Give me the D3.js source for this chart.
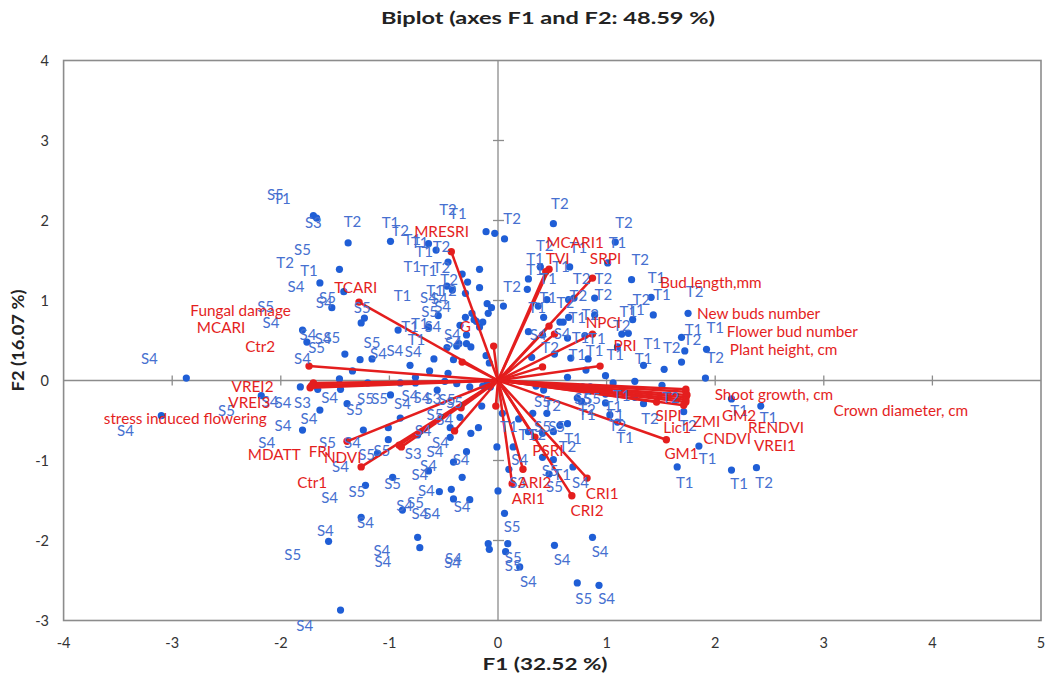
<!DOCTYPE html>
<html><head><meta charset="utf-8">
<script src="https://cdn.jsdelivr.net/npm/d3@7"></script>
<style>
html,body{margin:0;padding:0;background:#fff;}
svg{display:block;font-family:Lato,"Open Sans",sans-serif;}
</style></head>
<body><svg id="c" width="1046" height="680"></svg>
<script>
const title = "Biplot (axes F1 and F2: 48.59 %)";
const xTitle = "F1 (32.52 %)";
const yTitle = "F2 (16.07 %)";
const xTicks = [-4,-3,-2,-1,0,1,2,3,4,5];
const yTicks = [-3,-2,-1,0,1,2,3,4];

// variable vectors (endpoints, F1/F2 loadings)
const vecX = [-0.43,-1.28,-0.33,-0.04,-1.74,-1.70,-1.72,-1.73,-1.71,-1.39,-1.26,-0.91,-0.89,-0.40,-0.34,-0.02,
  0.23,0.13,0.68,0.82,0.34,1.55,1.73,1.73,1.74,1.73,1.73,1.73,1.71,1.46,0.47,0.44,0.87,0.47,0.52,0.87,0.94,0.41];
const vecY = [1.61,0.98,0.23,0.43,0.18,-0.03,-0.07,-0.09,-0.06,-0.76,-1.08,-0.81,-0.83,-0.63,-0.34,-0.32,
  -1.11,-1.29,-1.44,-1.22,-0.71,-0.74,-0.11,-0.14,-0.18,-0.21,-0.24,-0.27,-0.31,-0.27,1.39,1.36,1.28,0.68,0.58,0.58,0.18,0.17];

// variable labels [name, x, y]
const varLabels = [
 ["MRESRI",-0.52,1.86],["MCARI1",0.71,1.73],["TVI",0.55,1.52],["SRPI",0.99,1.53],
 ["Bud length,mm",1.96,1.23],["TCARI",-1.31,1.16],["Fungal damage",-2.37,0.88],
 ["New buds number",2.40,0.84],["G",-0.30,0.67],["MCARI",-2.55,0.66],["NPCI",0.97,0.72],
 ["Flower bud number",2.71,0.61],["Ctr2",-2.19,0.42],["PRI",1.17,0.44],["Plant height, cm",2.63,0.39],
 ["VREI2",-2.26,-0.07],["Shoot growth, cm",2.54,-0.18],["VREI3",-2.29,-0.27],
 ["Crown diameter, cm",3.71,-0.38],["stress induced flowering",-2.88,-0.48],["SIPI",1.57,-0.44],
 ["ZMI",1.92,-0.51],["GM2",2.22,-0.44],["Lic1",1.65,-0.59],["RENDVI",2.56,-0.59],["CNDVI",2.11,-0.72],
 ["VREI1",2.55,-0.81],["MDATT",-2.06,-0.92],["FRI",-1.64,-0.89],["NDVI",-1.43,-0.96],["PSRI",0.46,-0.88],
 ["GM1",1.69,-0.91],["Ctr1",-1.71,-1.27],["CRI1",0.96,-1.41],["ARI2",0.34,-1.28],["ARI1",0.28,-1.47],
 ["CRI2",0.82,-1.62]
];

// observation scores [F1, F2]
const obsPoints = [
 [-1.70,2.06],[-1.67,2.03],[-1.38,1.72],[-0.99,1.74],[-0.64,1.71],[-0.57,1.63],[-0.46,1.48],[-1.46,1.39],
 [-0.17,1.39],[-0.33,1.33],[-0.28,1.23],[-1.64,1.22],[-1.42,1.11],[-0.47,1.18],[-0.42,1.13],[-0.30,1.09],
 [-0.17,1.16],[-1.53,0.91],[-1.23,0.78],[-1.26,0.72],[-0.55,0.81],[-0.10,0.96],[-0.06,0.91],[-0.09,0.84],
 [0.05,0.93],[-0.30,0.79],[-0.22,0.76],[-0.17,0.67],[-0.92,0.63],[-0.64,0.67],[-0.29,0.57],[-0.47,0.41],
 [-0.38,0.43],[-0.29,0.46],[-1.41,0.33],[-1.27,0.26],[-1.16,0.27],[-0.81,0.19],[-0.63,0.12],[-0.46,0.09],
 [-1.34,0.12],[-0.76,0.04],[-1.46,0.02],[-0.90,-0.03],[-1.20,-0.03],[-0.10,-0.03],[-0.08,0.22],
 [-0.11,1.86],[-0.03,1.84],[0.06,1.77],[-1.80,0.63],[-1.76,0.48],[-1.82,-0.08],[-1.66,-0.11],
 [-2.87,0.03],[-2.18,-0.19],[-3.10,-0.44],[-1.80,-0.62],[-1.64,-0.37],
 [-0.24,0.84],[-0.20,0.74],[-0.14,0.73],[-0.35,0.69],[-0.36,0.46],[-0.25,0.42],[-0.41,0.26],[-0.59,0.27],
 [-0.11,0.31],[-0.49,-0.01],[-0.26,-0.08],[-0.14,-0.07],[-0.07,-0.08],[-0.56,-0.12],[-0.15,-0.32],
 [-0.35,-0.46],[-0.44,-0.71],[-0.18,-0.59],[0.04,-0.41],[-0.01,-0.83],[0.14,-0.83],[0.19,-0.48],
 [0.45,-0.41],[0.28,-0.64],[0.35,-0.07],[0.42,-0.12],[0.37,0.93],[0.28,0.61],[0.31,0.29],[0.65,0.79],
 [0.60,0.73],[0.64,0.53],[0.80,0.56],[0.52,0.33],[0.64,0.04],[0.81,0.13],[0.78,-0.08],[0.85,-0.08],
 [0.73,-0.22],
 [-1.45,-0.11],[-0.76,-0.03],[-0.38,-0.04],[-1.39,-0.29],[-0.99,-0.18],[-0.90,-0.47],[-1.24,-0.62],
 [-1.01,-0.59],[-1.01,-0.74],[-1.11,-0.91],[-0.44,-0.59],[-0.25,-0.66],[-0.74,-0.68],[-0.64,-1.13],
 [-0.41,-1.02],[-0.29,-0.89],[-0.33,-1.21],[-0.97,-1.21],[-1.22,-1.31],[-0.54,-1.39],[-0.43,-1.36],
 [-0.41,-1.48],[-0.26,-1.49],[-0.88,-1.62],[-1.26,-1.71],[-0.74,-1.96],[-0.72,-2.09],[-1.56,-2.01],
 [-0.09,-2.04],[-0.08,-2.11],[0.07,-2.14],[0.09,-2.04],[0.00,-1.38],[0.06,-1.66],[-1.45,-2.87],
 [0.77,-0.26],[0.99,-0.17],[1.06,-0.03],[1.26,-0.01],[1.51,-0.06],[1.34,-0.29],[0.32,-0.41],[0.57,-0.56],
 [0.64,-0.54],[0.41,-0.66],[0.51,-0.64],[1.10,-0.52],[1.03,-0.43],[0.10,-1.11],[0.41,-0.96],[0.51,-0.99],
 [0.47,-1.17],[0.69,-1.08],[1.65,-1.08],[0.20,-2.33],[0.52,-2.06],[0.87,-1.96],[0.73,-2.53],[0.93,-2.56],
 [0.99,0.06],[1.53,0.14],[1.91,0.03],[1.69,0.23],[1.26,-0.21],[0.99,-0.28],[1.71,-0.39],[2.15,-0.23],
 [2.42,-0.32],[1.85,-0.82],[2.15,-1.12],[2.38,-1.09],
 [0.51,1.96],[1.08,1.73],[1.01,1.47],[0.66,1.42],[0.39,1.42],[1.23,1.26],[0.28,1.27],[0.27,1.14],
 [1.41,1.04],[0.89,1.03],[0.65,1.01],[0.70,1.03],[0.45,1.01],[1.75,0.84],[1.43,0.82],[0.89,0.82],
 [0.42,0.79],[0.57,0.73],[1.24,0.76],[1.20,0.59],[1.14,0.58],[1.69,0.54],[0.41,0.57],[1.10,0.42],
 [0.67,0.28],[0.83,0.27],[1.34,0.19],[1.72,0.37],[1.92,0.39]
];

// observation labels [text, x, y]
const obsLabels = [
 ["S5",-2.05,2.32],["T1",-1.99,2.27],["S3",-1.70,1.97],["T2",-1.34,1.99],["T1",-0.99,1.97],["T2",-0.90,1.88],
 ["T2",-0.46,2.14],["T1",-0.37,2.09],["T1",-0.79,1.76],["T1",-0.72,1.73],["T2",-0.52,1.67],["T1",-0.68,1.61],
 ["T1",-0.79,1.43],["T1",-0.64,1.37],["T2",-0.52,1.41],["S5",-1.80,1.64],["T2",-1.96,1.47],["T1",-1.74,1.38],
 ["S4",-1.86,1.17],["T2",-0.45,1.26],["T1",-0.58,1.13],["T2",-0.46,1.13],["T1",-0.88,1.06],["S4",-0.64,1.04],
 ["S4",-0.54,1.03],["S4",-0.51,0.93],["S5",-1.57,1.04],["S4",-1.60,0.97],["S5",-1.25,0.91],["S5",-0.63,0.86],
 ["T1",-0.81,0.68],["T1",-0.72,0.71],["S4",-0.60,0.68],["T1",-0.75,0.51],["S4",-0.42,0.57],["S4",-0.41,0.47],
 ["S5",-2.14,0.92],["S4",-2.09,0.73],["S4",-1.75,0.58],["S4",-1.61,0.52],["S5",-1.53,0.54],["S5",-1.67,0.41],
 ["S5",-1.16,0.47],["S4",-1.10,0.34],["S4",-0.95,0.37],["S4",-0.78,0.36],["S4",-1.80,0.28],["S4",-3.21,0.28],
 ["T2",0.57,2.21],["T2",0.13,2.03],["T2",1.16,1.98],["T1",1.10,1.73],["T2",0.43,1.69],["T1",0.74,1.66],
 ["T1",0.34,1.53],["T2",1.31,1.51],["T1",0.34,1.39],["T1",0.58,1.42],["T1",1.46,1.29],["T2",0.13,1.18],
 ["T1",0.46,1.27],["T2",0.77,1.28],["T2",0.97,1.28],["T1",0.46,1.04],["T2",0.74,1.06],["T2",0.97,1.07],
 ["T1",1.51,1.07],["T2",1.81,1.11],["T2",1.32,1.01],["T1",1.20,0.86],["T1",1.27,0.89],["T1",0.36,0.91],
 ["T2",0.62,0.98],["T1",0.73,0.79],["T2",0.85,0.82],["T1",1.80,0.64],["T1",2.00,0.66],["T2",1.79,0.51],
 ["T2",1.14,0.69],["S4",0.37,0.57],["S4",0.59,0.59],["T1",0.76,0.54],["T1",0.91,0.53],["T1",1.42,0.46],
 ["T2",1.60,0.41],["T2",0.48,0.41],["T1",0.73,0.32],["T1",0.89,0.38],["T1",1.08,0.32],["T1",1.34,0.28],
 ["T2",2.00,0.29],
 ["S4",-3.43,-0.63],["S5",-2.50,-0.38],["S4",-2.10,-0.26],["S4",-1.98,-0.28],["S4",-1.98,-0.56],
 ["S4",-2.13,-0.78],["S3",-1.80,-0.27],["S4",-1.55,-0.21],["S4",-1.74,-0.48],["S5",-1.32,-0.36],
 ["S5",-1.22,-0.23],["S5",-1.09,-0.22],["S4",-0.88,-0.29],["S4",-0.81,-0.19],["S4",-0.70,-0.21],
 ["S3",-0.60,-0.23],["S5",-0.47,-0.24],["S5",-0.40,-0.27],["S5",-0.58,-0.43],["S4",-0.49,-0.49],
 ["S5",-1.57,-0.78],["S4",-1.34,-0.77],["S5",-1.21,-0.92],["S5",-1.07,-0.87],["S4",-1.45,-1.08],
 ["S3",-0.78,-0.91],["S4",-0.58,-0.89],["S4",-0.53,-0.77],["S4",-0.69,-0.62],["S4",-0.64,-1.06],
 ["S4",-0.72,-1.17],["S4",-0.34,-0.99],["S4",-1.55,-1.46],["S5",-1.30,-1.39],["S5",-0.97,-1.29],
 ["S4",-0.66,-1.38],["S4",-0.86,-1.56],["S5",-0.76,-1.53],["S4",-0.72,-1.66],["S4",-0.61,-1.66],
 ["S4",-0.33,-1.58],["S4",-1.22,-1.78],["S4",-1.59,-1.87],["S5",-1.89,-2.18],["S4",-1.07,-2.12],
 ["S4",-1.06,-2.26],["S4",-0.41,-2.23],["S4",-0.42,-2.28],["S4",-1.78,-3.06],
 ["S5",0.41,-0.26],["T2",0.50,-0.31],["S5",0.78,-0.23],["S5",0.87,-0.23],["T2",0.82,-0.36],["T1",0.82,-0.43],
 ["T1",1.14,-0.19],["T1",1.06,-0.32],["T1",1.08,-0.43],["T2",1.59,-0.21],["T2",1.40,-0.47],["T2",1.10,-0.56],
 ["T1",1.17,-0.71],["T1",0.10,-0.58],["T1",0.27,-0.68],["T2",0.36,-0.68],["S5",0.41,-0.58],["S5",0.54,-0.58],
 ["T1",0.69,-0.72],["T2",0.64,-0.83],["S4",0.20,-0.99],["S5",0.48,-1.12],["T1",0.59,-1.18],["S5",0.52,-1.33],
 ["S4",0.76,-1.27],["S3",0.18,-1.27],["S5",0.13,-1.83],["S4",0.94,-2.14],["S4",0.59,-2.24],["S5",0.14,-2.21],
 ["S5",0.14,-2.31],["S4",0.28,-2.51],["S5",0.79,-2.72],["S4",1.00,-2.73],["T2",1.75,-0.56],["T1",2.22,-0.38],
 ["T1",2.49,-0.46],["T1",1.93,-0.98],["T1",1.72,-1.27],["T1",2.22,-1.29],["T2",2.45,-1.27]
];

const W = 1046, H = 680;
const svg = d3.select("#c");
const x = d3.scaleLinear().domain([-4,5]).range([63.6,1041]);
const y = d3.scaleLinear().domain([-3,4]).range([620.5,60.5]);

const grey = "#8c8c8c";
const blueDot = "#1f5ed6";
const blueTxt = "#4670d0";
const red = "#e41e1e";

// frame
svg.append("rect").attr("x",x(-4)).attr("y",y(4)).attr("width",x(5)-x(-4)).attr("height",y(-3)-y(4))
  .attr("fill","none").attr("stroke",grey).attr("stroke-width",1.6);

// tick labels on frame
svg.append("g").attr("transform",`translate(0,${y(-3)+27})`).selectAll("text").data(xTicks).join("text")
  .attr("x",d=>x(d)).attr("text-anchor","middle").attr("font-size",14.5).attr("fill","#333").text(d=>d);
svg.append("g").selectAll("text").data(yTicks).join("text")
  .attr("x",49).attr("y",d=>y(d)).attr("dy","0.35em").attr("text-anchor","end").attr("font-size",14.5).attr("fill","#333").text(d=>d);

// zero axes with crossing ticks
svg.append("line").attr("x1",x(-4)).attr("x2",x(5)).attr("y1",y(0)).attr("y2",y(0)).attr("stroke",grey).attr("stroke-width",1.3);
svg.append("line").attr("x1",x(0)).attr("x2",x(0)).attr("y1",y(-3)).attr("y2",y(4)).attr("stroke",grey).attr("stroke-width",1.3);
svg.append("g").selectAll("line").data(xTicks.filter(d=>d>-4&&d<5&&d!==0)).join("line")
  .attr("x1",d=>x(d)).attr("x2",d=>x(d)).attr("y1",y(0)-5).attr("y2",y(0)+5).attr("stroke",grey).attr("stroke-width",1.3);
svg.append("g").selectAll("line").data(yTicks.filter(d=>d>-3&&d<4&&d!==0)).join("line")
  .attr("y1",d=>y(d)).attr("y2",d=>y(d)).attr("x1",x(0)-5).attr("x2",x(0)+6).attr("stroke",grey).attr("stroke-width",1.3);

// observations
svg.append("g").selectAll("circle").data(obsPoints).join("circle")
  .attr("cx",d=>x(d[0])).attr("cy",d=>y(d[1])).attr("r",3.6).attr("fill",blueDot);

// variable vectors
const vg = svg.append("g");
vg.selectAll("line").data(vecX.map((v,i)=>[v,vecY[i]])).join("line")
  .attr("x1",x(0)).attr("y1",y(0)).attr("x2",d=>x(d[0])).attr("y2",d=>y(d[1]))
  .attr("stroke",red).attr("stroke-width",2.5);
vg.selectAll("circle").data(vecX.map((v,i)=>[v,vecY[i]])).join("circle")
  .attr("cx",d=>x(d[0])).attr("cy",d=>y(d[1])).attr("r",3.7).attr("fill",red);

// observation labels
svg.append("g").selectAll("text").data(obsLabels).join("text")
  .attr("x",d=>x(d[1])).attr("y",d=>y(d[2])).attr("dy","0.36em").attr("text-anchor","middle")
  .attr("font-size",15).attr("fill",blueTxt).text(d=>d[0]);

// variable labels
svg.append("g").selectAll("text").data(varLabels).join("text")
  .attr("x",d=>x(d[1])).attr("y",d=>y(d[2])).attr("dy","0.36em").attr("text-anchor","middle")
  .attr("font-size",15.3).attr("fill",red).text(d=>d[0]);

// titles
svg.append("text").attr("x",548).attr("y",24).attr("text-anchor","middle").attr("font-size",17.5)
  .attr("font-weight","bold").attr("fill","#222").attr("textLength",334).attr("lengthAdjust","spacingAndGlyphs").text(title);
svg.append("text").attr("x",545).attr("y",670).attr("text-anchor","middle").attr("font-size",17)
  .attr("font-weight","bold").attr("fill","#222").attr("textLength",125).attr("lengthAdjust","spacingAndGlyphs").text(xTitle);
svg.append("text").attr("transform",`translate(24,${(y(-3)+y(4))/2}) rotate(-90)`).attr("text-anchor","middle")
  .attr("font-size",17).attr("font-weight","bold").attr("fill","#222").attr("textLength",102).attr("lengthAdjust","spacingAndGlyphs").text(yTitle);
</script></body></html>
